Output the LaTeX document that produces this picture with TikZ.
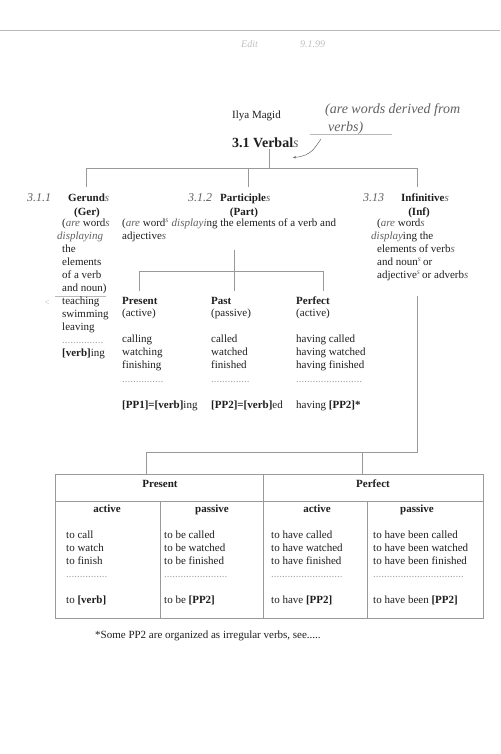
\documentclass[tikz,border=0pt]{standalone}
\usepackage{fontspec}
\setmainfont{Liberation Serif}
\usetikzlibrary{arrows.meta}
\newcommand\hw[1]{{\color{black!62}\itshape #1}}
\newcommand\hws{\textsuperscript{\hw{s}}}
\begin{document}
\begin{tikzpicture}[x=1pt,y=-1pt,
  tx/.style={anchor=base west,inner sep=0pt,font=\fontsize{11}{13}\selectfont,text=black!88},
  txc/.style={anchor=base,inner sep=0pt,font=\fontsize{11}{13}\selectfont,text=black!88},
  hwn/.style={anchor=base west,inner sep=0pt,font=\fontsize{12}{14}\selectfont\itshape,text=black!62},
  dts/.style={anchor=base west,inner sep=0pt,font=\fontsize{11}{13}\selectfont,text=gray!70},
  ln/.style={draw=gray!80,line width=0.7pt},
  faint/.style={draw=gray!55,line width=0.4pt}]
\useasboundingbox (0,0) rectangle (500,754);
\fill[white] (0,0) rectangle (500,754);
% page edge line
\draw[draw=gray!55,line width=1pt] (0,31) -- (500,31);
\node[hwn,font=\fontsize{10}{12}\selectfont\itshape,text=gray!50] (edit) at (241,48) {Edit};
\node[hwn,font=\fontsize{10}{12}\selectfont\itshape,text=gray!50] (editdate) at (300,48) {9.1.99};
% title
\node[tx] (author) at (232,118.5) {Ilya Magid};
\node[hwn,font=\fontsize{14}{16}\selectfont\itshape] (note1) at (325,113.5) {(are words derived from};
\node[hwn,font=\fontsize{14}{16}\selectfont\itshape] (note2) at (328,131.5) {verbs)};
\draw[faint] (310,134) -- (392,134);
\node[tx,font=\fontsize{14}{16}\selectfont\bfseries] (verbals) at (232,148) {3.1 Verbal\hw{\mdseries s}};
\draw[black!60,line width=0.5pt,-{Stealth[length=3pt,width=2.5pt]}] (321,139) .. controls (315,147) and (312,156) .. (293,157.5);
% top tree
\coordinate (v0) at (269,149);
\coordinate (v1) at (269,168);
\coordinate (gT) at (86,168);
\coordinate (gB) at (86,187);
\coordinate (pT) at (248,168);
\coordinate (pB) at (248,187);
\coordinate (iT) at (417,168);
\coordinate (iB) at (417,187);
\draw[ln] (v0) -- (v1);
\draw[ln] (gB) -- (gT) -- (iT) -- (iB);
\draw[ln] (pT) -- (pB);
% Gerund
\node[hwn] (gnum) at (27,201) {3.1.1};
\node[tx] (ger) at (68,201) {\textbf{Gerund}\hw{s}};
\node[txc] (gerab) at (87,215) {\textbf{(Ger)}};
\node[tx] (g1) at (62,226.5) {(\hw{are} word\hw{s}};
\node[tx] (g2) at (57,239.5) {\hw{displaying}};
\node[tx] (g3) at (62,252.5) {the};
\node[tx] (g4) at (62,265.5) {elements};
\node[tx] (g5) at (62,278.5) {of a verb};
\node[tx] (g6) at (62,291.5) {and noun)};
\draw[faint] (55,296) -- (106,296);
\node[hwn,font=\fontsize{9}{10}\selectfont\itshape,text=gray!50] (gtick) at (44,305) {<};
\node[tx] (g7) at (62,304.5) {teaching};
\node[tx] (g8) at (62,317.5) {swimming};
\node[tx] (g9) at (62,330.5) {leaving};
\node[dts] (gd) at (62,343) {...............};
\node[tx] (gf) at (62,356.5) {\textbf{[verb]}ing};
% Participle
\node[hwn] (pnum) at (188,201) {3.1.2};
\node[tx] (par) at (220,201) {\textbf{Participle}\hw{s}};
\node[txc] (parab) at (244,215) {\textbf{(Part)}};
\node[tx] (p1) at (122,226.5) {(\hw{are} word\hws\ \hw{displayi}ng the elements of a verb and};
\node[tx] (p2) at (122,239.5) {adjective\hw{s}};
\coordinate (sT) at (234,250);
\coordinate (sM) at (234,271);
\coordinate (sB) at (234,291);
\coordinate (sL) at (139,271);
\coordinate (sLB) at (139,291);
\coordinate (sR) at (323,271);
\coordinate (sRB) at (323,291);
\draw[ln] (sT) -- (sB);
\draw[ln] (sLB) -- (sL) -- (sR) -- (sRB);
% Participle columns
\node[tx] (pr1) at (122,304.5) {\textbf{Present}};
\node[tx] (pr2) at (122,316.5) {(active)};
\node[tx] (pr3) at (122,342.5) {calling};
\node[tx] (pr4) at (122,355.5) {watching};
\node[tx] (pr5) at (122,368.5) {finishing};
\node[dts] (prd) at (122,382) {...............};
\node[tx] (prf) at (122,408.5) {\textbf{[PP1]=[verb]}ing};
\node[tx] (pa1) at (211,304.5) {\textbf{Past}};
\node[tx] (pa2) at (211,316.5) {(passive)};
\node[tx] (pa3) at (211,342.5) {called};
\node[tx] (pa4) at (211,355.5) {watched};
\node[tx] (pa5) at (211,368.5) {finished};
\node[dts] (pad) at (211,382) {..............};
\node[tx] (paf) at (211,408.5) {\textbf{[PP2]=[verb]}ed};
\node[tx] (pe1) at (296,304.5) {\textbf{Perfect}};
\node[tx] (pe2) at (296,316.5) {(active)};
\node[tx] (pe3) at (296,342.5) {having called};
\node[tx] (pe4) at (296,355.5) {having watched};
\node[tx] (pe5) at (296,368.5) {having finished};
\node[dts] (ped) at (296,382) {........................};
\node[tx] (pef) at (296,408.5) {having \textbf{[PP2]*}};
% Infinitive
\node[hwn] (inum) at (363,201) {3.13};
\node[tx] (inf) at (401,201) {\textbf{Infinitive}\hw{s}};
\node[txc] (infab) at (419,215) {\textbf{(Inf)}};
\node[tx] (i1) at (377,226.5) {(\hw{are} word\hw{s}};
\node[tx] (i2) at (371,239.5) {\hw{display}ing the};
\node[tx] (i3) at (377,252.5) {elements of verb\hw{s}};
\node[tx] (i4) at (377,265.5) {and noun\hws\,or};
\node[tx] (i5) at (377,278.5) {adjective\hws\,or adverb\hw{s}};
% infinitive to table
\coordinate (t0) at (417,296);
\coordinate (t1) at (417,452);
\coordinate (t2) at (146,452);
\coordinate (t3) at (146,474);
\coordinate (t4) at (362,452);
\coordinate (t5) at (362,474);
\draw[ln] (t0) -- (t1) -- (t2) -- (t3);
\draw[ln] (t4) -- (t5);
% table
\draw[ln] (55,474) rectangle (483,618);
\draw[ln] (55,501) -- (483,501);
\draw[ln] (263,474) -- (263,618);
\draw[ln] (160,501) -- (160,618);
\draw[ln] (367,501) -- (367,618);
\node[txc] (th1) at (160,487) {\textbf{Present}};
\node[txc] (th2) at (373,487) {\textbf{Perfect}};
\node[txc] (ts1) at (107,512.5) {\textbf{active}};
\node[txc] (ts2) at (212,512.5) {\textbf{passive}};
\node[txc] (ts3) at (317,512.5) {\textbf{active}};
\node[txc] (ts4) at (417,512.5) {\textbf{passive}};
\node[tx] (a1) at (66,538) {to call};
\node[tx] (a2) at (66,551) {to watch};
\node[tx] (a3) at (66,564) {to finish};
\node[dts] (ad) at (66,577) {...............};
\node[tx] (af) at (66,603.5) {to \textbf{[verb]}};
\node[tx] (b1) at (164,538) {to be called};
\node[tx] (b2) at (164,551) {to be watched};
\node[tx] (b3) at (164,564) {to be finished};
\node[dts] (bd) at (164,577) {.......................};
\node[tx] (bf) at (164,603.5) {to be \textbf{[PP2]}};
\node[tx] (c1) at (271,538) {to have called};
\node[tx] (c2) at (271,551) {to have watched};
\node[tx] (c3) at (271,564) {to have finished};
\node[dts] (cd) at (271,577) {..........................};
\node[tx] (cf) at (271,603.5) {to have \textbf{[PP2]}};
\node[tx] (d1) at (373,538) {to have been called};
\node[tx] (d2) at (373,551) {to have been watched};
\node[tx] (d3) at (373,564) {to have been finished};
\node[dts] (dd) at (373,577) {.................................};
\node[tx] (df) at (373,603.5) {to have been \textbf{[PP2]}};
% footnote
\node[tx] (foot) at (95,638.5) {*Some PP2 are organized as irregular verbs, see.....};
\end{tikzpicture}
\end{document}
